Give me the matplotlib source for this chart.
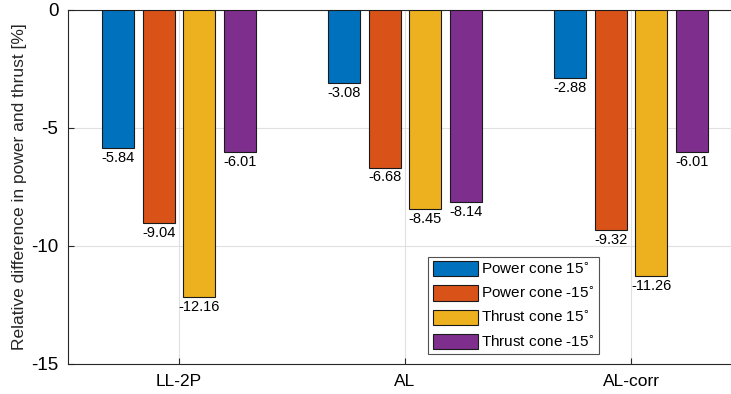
import numpy as np
import matplotlib
matplotlib.use("Agg")
import matplotlib.pyplot as plt

plt.rcParams["font.family"] = ["Liberation Sans", "DejaVu Sans"]

# data
methods = ["LL-2P", "AL", "AL-corr"]
series = ["Power cone 15$^{\\circ}$", "Power cone -15$^{\\circ}$",
          "Thrust cone 15$^{\\circ}$", "Thrust cone -15$^{\\circ}$"]
power_p15 = [-5.84, -3.08, -2.88]
power_m15 = [-9.04, -6.68, -9.32]
thrust_p15 = [-12.16, -8.45, -11.26]
thrust_m15 = [-6.01, -8.14, -6.01]
colors = ["#0072BD", "#D95319", "#EDB120", "#7E2F8E"]

fig = plt.figure(figsize=(7.31, 3.94), dpi=100)
ax = fig.add_axes([68 / 731, 30 / 394, 663 / 731, 354 / 394])

x = np.arange(1, len(methods) + 1)
offsets = [-0.27, -0.09, 0.09, 0.27]
width = 0.142
for vals, off, col, lab in zip([power_p15, power_m15, thrust_p15, thrust_m15],
                               offsets, colors, series):
    bars = ax.bar(x + off, vals, width, color=col, edgecolor="#1a1a1a",
                  linewidth=0.8, label=lab, zorder=3)
    for b, v in zip(bars, vals):
        ax.text(b.get_x() + b.get_width() / 2, v - 0.12, f"{v:.2f}",
                ha="center", va="top", fontsize=10.5, zorder=4)

ax.set_xlim(0.509, 3.442)
ax.set_ylim(-15, 0)
ax.set_xticks(x)
ax.set_xticklabels(methods, fontsize=12.5)
ax.set_yticks([0, -5, -10, -15])
ax.set_yticklabels(["0", "-5", "-10", "-15"], fontsize=13.5)
ax.set_ylabel("Relative difference in power and thrust [%]", fontsize=12.5,
              labelpad=3, color="#262626")
ax.tick_params(direction="in", length=4, color="#262626", pad=7)
ax.grid(True, color="#e0e0e0", linewidth=0.8, zorder=0)
ax.spines["right"].set_visible(False)
for s in ["top", "bottom", "left"]:
    ax.spines[s].set_color("#262626")
    ax.spines[s].set_linewidth(0.8)

leg = ax.legend(loc="lower left", bbox_to_anchor=(0.543, 0.028), fontsize=11,
                frameon=True, fancybox=False, edgecolor="#262626",
                handlelength=2.95, handleheight=1.15, handletextpad=0.2,
                labelspacing=0.55, borderpad=0.3, borderaxespad=0)
leg.get_frame().set_linewidth(0.8)

fig.savefig("out.png", dpi=100)
